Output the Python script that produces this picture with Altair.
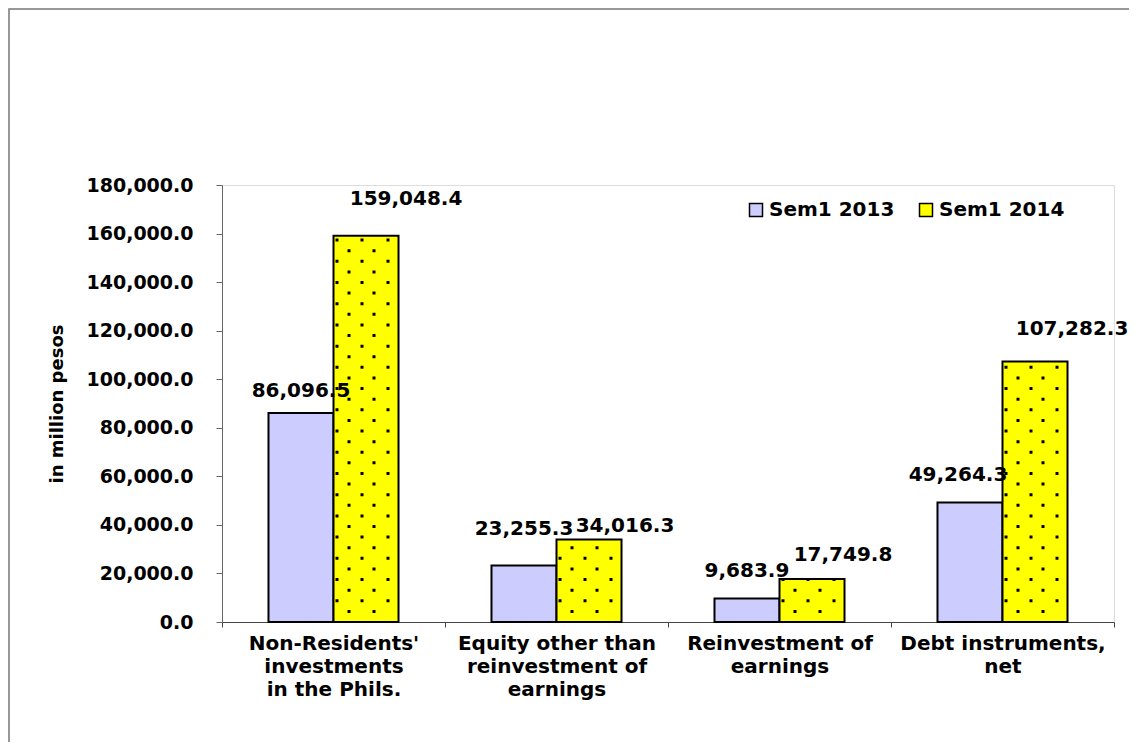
import altair as alt
import pandas as pd

# ---- data ----
categories = [
    "Non-Residents'|investments|in the Phils.",
    "Equity other than|reinvestment of|earnings",
    "Reinvestment of|earnings",
    "Debt instruments,|net",
]
series_names = ["Sem1 2013", "Sem1 2014"]
sem1_2013 = [86096.5, 23255.3, 9683.9, 49264.3]
sem1_2014 = [159048.4, 34016.3, 17749.8, 107282.3]
y_ticks = [0, 20000, 40000, 60000, 80000, 100000, 120000, 140000, 160000, 180000]

rows = []
for i, c in enumerate(categories):
    rows.append({"cat": c, "series": series_names[0], "value": sem1_2013[i], "key": f"0-{i}"})
    rows.append({"cat": c, "series": series_names[1], "value": sem1_2014[i], "key": f"1-{i}"})
df = pd.DataFrame(rows)

# ---- style ----
FONT = "DejaVu Sans"
W, H = 892, 437
# manual label offsets (dx, dy) in px, keyed like the data rows
label_offsets = {
    "0-0": (0, -22), "1-0": (40, -37),
    "0-1": (0, -37), "1-1": (36, -13),
    "0-2": (0, -27), "1-2": (31, -24),
    "0-3": (-12, -27), "1-3": (37, -33),
}
DOT_ROW = 4370  # vertical spacing of the dot texture (data units)
row_a_dx = [-29, -4, 22]
row_b_dx = [-17, 8]


def dot_path(dxs, half=1.5):
    return " ".join(f"M{d - half},{-half}h{2 * half}v{2 * half}h{-2 * half}z" for d in dxs)


x_enc = alt.X(
    "cat:N",
    sort=categories,
    scale=alt.Scale(paddingInner=0, paddingOuter=0),
    axis=alt.Axis(
        title=None,
        labelExpr="split(datum.label, '|')",
        labelAngle=0,
        labelLimit=0,
        labelFont=FONT,
        labelFontSize=20,
        labelFontWeight="bold",
        labelColor="#000",
        labelBaseline="top",
        labelLineHeight=23,
        labelPadding=6,
        tickBand="extent",
        tickSize=5,
        tickColor="#444",
        domainColor="#444",
    ),
)
xoff_enc = alt.XOffset(
    "series:N", sort=series_names, scale=alt.Scale(paddingOuter=0.715, paddingInner=0)
)
y_scale = alt.Scale(domain=[0, 180000], nice=False)
y_enc = alt.Y(
    "value:Q",
    scale=y_scale,
    axis=alt.Axis(
        values=y_ticks,
        format=",.1f",
        grid=False,
        labelFont=FONT,
        labelFontSize=19,
        labelFontWeight="bold",
        labelColor="#000",
        labelPadding=23,
        tickSize=6,
        tickColor="#666",
        domainColor="#666",
        title="in million pesos",
        titleFont=FONT,
        titleFontSize=18,
        titleFontWeight="bold",
        titleColor="#000",
        titleAngle=270,
        titleX=-165,
        titleY=H / 2,
        titleAlign="center",
        titleBaseline="middle",
    ),
)

base = alt.Chart(df)

bars = base.mark_bar(stroke="#000", strokeWidth=2).encode(
    x=x_enc,
    xOffset=xoff_enc,
    y=y_enc,
    color=alt.Color(
        "series:N",
        scale=alt.Scale(domain=series_names, range=["#CCCCFF", "#FFFF00"]),
        legend=alt.Legend(
            title=None,
            orient="none",
            legendX=524,
            legendY=15,
            direction="horizontal",
            symbolType="square",
            symbolSize=169,
            symbolStrokeColor="#000",
            symbolStrokeWidth=1.5,
            labelFont=FONT,
            labelFontSize=20,
            labelFontWeight="bold",
            labelColor="#000",
            labelOffset=3,
            columnPadding=21,
        ),
    ),
)

layers = [bars]

# dot texture on the 2014 bars
for start, dxs in ((2 * DOT_ROW, row_a_dx), (DOT_ROW, row_b_dx)):
    dots = (
        base.transform_filter(alt.datum.series == series_names[1])
        .transform_calculate(dot=f"sequence({start}, datum.value, {2 * DOT_ROW})")
        .transform_flatten(["dot"])
        .mark_point(shape=dot_path(dxs), size=4, filled=True, color="#000", opacity=1)
        .encode(
            x=alt.X("cat:N", sort=categories),
            xOffset=alt.XOffset("series:N", sort=series_names),
            y=alt.Y("dot:Q", scale=y_scale),
        )
    )
    layers.append(dots)

# value labels
for key, (dx, dy) in label_offsets.items():
    layers.append(
        base.transform_filter(alt.datum.key == key)
        .mark_text(
            font=FONT, fontSize=20, fontWeight="bold", color="#000",
            dx=dx, dy=dy, align="center", baseline="middle",
        )
        .encode(
            x=alt.X("cat:N", sort=categories),
            xOffset=alt.XOffset("series:N", sort=series_names),
            y=alt.Y("value:Q", scale=y_scale),
            text=alt.Text("value:Q", format=",.1f"),
        )
    )

# outer frame
frame = alt.Chart(pd.DataFrame({"f": [0]})).mark_rect(
    fillOpacity=0, stroke="#777", strokeWidth=1.5
).encode(
    x=alt.value(-213), y=alt.value(-176), x2=alt.value(W + 40), y2=alt.value(H + 200)
)
layers.append(frame)

chart = (
    alt.layer(*layers)
    .properties(
        width=W,
        height=H,
        autosize=alt.AutoSizeParams(type="none"),
        padding={"left": 214, "top": 177, "right": 15, "bottom": 120},
    )
    .configure_view(stroke=None)
    .configure(background="white")
)

chart.save("out.html", embed_options={"renderer": "svg", "actions": False})
